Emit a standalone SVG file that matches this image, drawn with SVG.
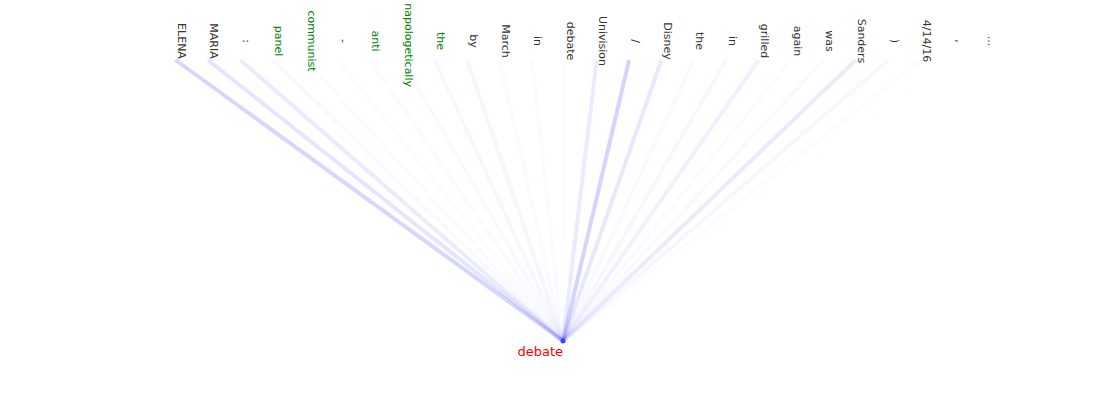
<svg xmlns="http://www.w3.org/2000/svg" width="1100" height="400" viewBox="0 0 1100 400">
<style>
.tok{font-family:"DejaVu Sans",sans-serif;font-size:11px;fill:#333;text-anchor:middle}
.hl{fill:#008000}
.lk{stroke:#0000ff;stroke-width:4;fill:none}
.lbl{font-family:"DejaVu Sans",sans-serif;font-size:13px;fill:#ff0000;text-anchor:end}
</style>
<rect width="1100" height="400" fill="#ffffff"/>
<g id="connectors">
<line class="lk" x1="175.5" y1="60" x2="563" y2="341" stroke-opacity="0.16"/>
<line class="lk" x1="207.9" y1="60" x2="563" y2="341" stroke-opacity="0.1"/>
<line class="lk" x1="240.3" y1="60" x2="563" y2="341" stroke-opacity="0.08"/>
<line class="lk" x1="272.7" y1="60" x2="563" y2="341" stroke-opacity="0.025"/>
<line class="lk" x1="305.1" y1="60" x2="563" y2="341" stroke-opacity="0.02"/>
<line class="lk" x1="337.5" y1="60" x2="563" y2="341" stroke-opacity="0.012"/>
<line class="lk" x1="369.9" y1="60" x2="563" y2="341" stroke-opacity="0.02"/>
<line class="lk" x1="402.3" y1="60" x2="563" y2="341" stroke-opacity="0.025"/>
<line class="lk" x1="434.7" y1="60" x2="563" y2="341" stroke-opacity="0.03"/>
<line class="lk" x1="467.1" y1="60" x2="563" y2="341" stroke-opacity="0.035"/>
<line class="lk" x1="499.5" y1="60" x2="563" y2="341" stroke-opacity="0.02"/>
<line class="lk" x1="531.9" y1="60" x2="563" y2="341" stroke-opacity="0.015"/>
<line class="lk" x1="564.3" y1="60" x2="563" y2="341" stroke-opacity="0.006"/>
<line class="lk" x1="596.7" y1="60" x2="563" y2="341" stroke-opacity="0.08"/>
<line class="lk" x1="629.1" y1="60" x2="563" y2="341" stroke-opacity="0.17"/>
<line class="lk" x1="661.5" y1="60" x2="563" y2="341" stroke-opacity="0.09"/>
<line class="lk" x1="693.9" y1="60" x2="563" y2="341" stroke-opacity="0.025"/>
<line class="lk" x1="726.3" y1="60" x2="563" y2="341" stroke-opacity="0.03"/>
<line class="lk" x1="758.7" y1="60" x2="563" y2="341" stroke-opacity="0.06"/>
<line class="lk" x1="791.1" y1="60" x2="563" y2="341" stroke-opacity="0.015"/>
<line class="lk" x1="823.5" y1="60" x2="563" y2="341" stroke-opacity="0.025"/>
<line class="lk" x1="855.9" y1="60" x2="563" y2="341" stroke-opacity="0.08"/>
<line class="lk" x1="888.3" y1="60" x2="563" y2="341" stroke-opacity="0.03"/>
<line class="lk" x1="920.7" y1="60" x2="563" y2="341" stroke-opacity="0.01"/>
<line class="lk" x1="953.1" y1="60" x2="563" y2="341" stroke-opacity="0.005"/>
</g>
<g id="tokens">
<g id="t0"><text class="tok" transform="translate(178,41) rotate(90)">ELENA</text></g>
<g id="t1"><text class="tok" transform="translate(210.4,41) rotate(90)">MARIA</text></g>
<g id="t2"><text class="tok" transform="translate(242.8,41) rotate(90)">:</text></g>
<g id="t3"><text class="tok hl" transform="translate(275.2,41) rotate(90)">panel</text></g>
<g id="t4"><text class="tok hl" transform="translate(307.6,41) rotate(90)">communist</text></g>
<g id="t5"><text class="tok" transform="translate(340,41) rotate(90)">-</text></g>
<g id="t6"><text class="tok hl" transform="translate(372.4,41) rotate(90)">anti</text></g>
<g id="t7"><text class="tok hl" text-anchor="end" style="text-anchor:end" transform="translate(404.8,87) rotate(90)">napologetically</text></g>
<g id="t8"><text class="tok hl" transform="translate(437.2,41) rotate(90)">the</text></g>
<g id="t9"><text class="tok" transform="translate(469.6,41) rotate(90)">by</text></g>
<g id="t10"><text class="tok" transform="translate(502,41) rotate(90)">March</text></g>
<g id="t11"><text class="tok" transform="translate(534.4,41) rotate(90)">in</text></g>
<g id="t12"><text class="tok" transform="translate(566.8,41) rotate(90)">debate</text></g>
<g id="t13"><text class="tok" transform="translate(599.2,41) rotate(90)">Univision</text></g>
<g id="t14"><text class="tok" transform="translate(631.6,41) rotate(90)">/</text></g>
<g id="t15"><text class="tok" transform="translate(664,41) rotate(90)">Disney</text></g>
<g id="t16"><text class="tok" transform="translate(696.4,41) rotate(90)">the</text></g>
<g id="t17"><text class="tok" transform="translate(728.8,41) rotate(90)">in</text></g>
<g id="t18"><text class="tok" transform="translate(761.2,41) rotate(90)">grilled</text></g>
<g id="t19"><text class="tok" transform="translate(793.6,41) rotate(90)">again</text></g>
<g id="t20"><text class="tok" transform="translate(826,41) rotate(90)">was</text></g>
<g id="t21"><text class="tok" transform="translate(858.4,41) rotate(90)">Sanders</text></g>
<g id="t22"><text class="tok" transform="translate(890.8,41) rotate(90)">)</text></g>
<g id="t23"><text class="tok" transform="translate(923.2,41) rotate(90)">4/14/16</text></g>
<g id="t24"><text class="tok" transform="translate(955.6,41) rotate(90)">,</text></g>
<g id="t25"><text class="tok" transform="translate(988,41) rotate(90)">...</text></g>
</g>
<g id="node-debate">
<circle cx="563" cy="341" r="2.5" fill="#4040ff"/>
<text class="lbl" x="563" y="356">debate</text>
</g>
</svg>
